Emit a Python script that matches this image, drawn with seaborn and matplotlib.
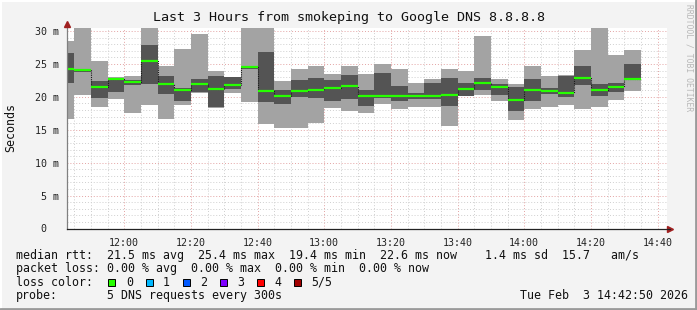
import matplotlib
matplotlib.use("Agg")
import matplotlib.pyplot as plt
from matplotlib.patches import Rectangle
from matplotlib.lines import Line2D
from matplotlib.ticker import FixedLocator
import seaborn as sns
import pandas as pd
import numpy as np

# ---------------- data ----------------
bar_end = ["11:45", "11:50", "11:55", "12:00", "12:05", "12:10", "12:15", "12:20",
           "12:25", "12:30", "12:35", "12:40", "12:45", "12:50", "12:55", "13:00",
           "13:05", "13:10", "13:15", "13:20", "13:25", "13:30", "13:35", "13:40",
           "13:45", "13:50", "13:55", "14:00", "14:05", "14:10", "14:15", "14:20",
           "14:25", "14:30", "14:35"]
ping_min = [16.6, 20.3, 18.5, 19.7, 17.5, 18.75, 16.65, 18.8, 20.6, 18.3, 20.6, 19.2,
            15.8, 15.25, 15.25, 16.0, 18.25, 17.9, 17.55, 18.9, 18.15, 18.4, 18.4, 15.5,
            20.1, 20.3, 19.3, 16.5, 18.15, 18.4, 18.7, 18.15, 18.4, 19.5, 20.9]
ping_q1 = [22.1, 23.8, 19.9, 20.7, 21.8, 22.0, 20.5, 19.3, 20.8, 18.4, 21.2, 24.3,
           19.25, 18.9, 20.0, 19.9, 19.4, 19.65, 18.65, 19.8, 19.4, 19.7, 19.65, 18.65,
           20.2, 21.05, 20.25, 17.9, 19.4, 20.4, 20.0, 21.75, 20.15, 20.75, 22.6]
ping_med = [24.2, 24.05, 21.5, 22.7, 22.2, 25.4, 21.9, 21.0, 21.9, 21.2, 21.85, 24.5,
            20.9, 20.15, 20.9, 21.05, 21.4, 21.65, 20.15, 20.15, 20.15, 20.15, 20.15, 20.3,
            21.2, 22.1, 21.5, 19.5, 21.0, 20.9, 20.6, 22.8, 21.0, 21.5, 22.65]
ping_q3 = [26.6, 24.3, 22.4, 22.8, 22.5, 27.9, 23.15, 21.3, 22.7, 23.1, 23.0, 24.7,
           26.75, 21.05, 22.55, 22.8, 22.5, 23.25, 21.0, 23.55, 21.65, 20.55, 22.15, 22.8,
           22.1, 22.8, 21.9, 21.5, 22.65, 21.4, 23.2, 24.65, 21.9, 22.15, 25.05]
ping_max = [28.5, 31.0, 25.5, 23.0, 23.1, 31.0, 24.65, 27.3, 29.5, 24.0, 23.05, 31.0,
            31.0, 22.4, 24.3, 24.65, 23.4, 24.65, 23.4, 25.05, 24.3, 22.05, 22.65, 24.3,
            24.0, 29.25, 22.65, 21.9, 24.65, 23.15, 23.3, 27.15, 31.0, 26.4, 27.15]

x_tick_labels = ["12:00", "12:20", "12:40", "13:00", "13:20", "13:40", "14:00", "14:20", "14:40"]
y_tick_values = [0, 5, 10, 15, 20, 25, 30]
y_tick_labels = ["0  ", "5 m", "10 m", "15 m", "20 m", "25 m", "30 m"]

title = "Last 3 Hours from smokeping to Google DNS 8.8.8.8"
window_start = "11:42:50"
window_end = "14:42:50"
step_minutes = 5

legend_rtt = "median rtt:  21.5 ms avg  25.4 ms max  19.4 ms min  22.6 ms now    1.4 ms sd  15.7   am/s"
legend_loss = "packet loss: 0.00 % avg  0.00 % max  0.00 % min  0.00 % now"
loss_labels = ["0", "1", "2", "3", "4", "5/5"]
loss_colors = ["#26ff00", "#00b8ff", "#0059ff", "#7e00ff", "#ff0000", "#a10000"]
probe_text = "5 DNS requests every 300s"
date_text = "Tue Feb  3 14:42:50 2026"
watermark = "RRDTOOL / TOBI OETIKER"


def to_min(s):
    parts = [int(p) for p in s.split(":")]
    while len(parts) < 3:
        parts.append(0)
    return parts[0] * 60 + parts[1] + parts[2] / 60.0


df = pd.DataFrame({
    "end": [to_min(t) for t in bar_end],
    "lo": ping_min, "q1": ping_q1, "med": ping_med, "q3": ping_q3, "hi": ping_max,
})
df["start"] = df["end"] - step_minutes

# ---------------- figure ----------------
sns.set_style("white")
MONO = ["DejaVu Sans Mono"]
plt.rcParams["font.family"] = MONO

W, H = 697, 310
fig = plt.figure(figsize=(W / 100, H / 100), dpi=100)
BG = "#f3f3f3"
fig.patch.set_facecolor(BG)


def fx(x):
    return x / W


def fy(y):
    return 1 - y / H


ax_left, ax_right, ax_top, ax_bot = 67, 667, 28, 228.5
ax = fig.add_axes([fx(ax_left), fy(ax_bot), (ax_right - ax_left) / W, (ax_bot - ax_top) / H])
ax.set_facecolor("white")

ax.set_xlim(to_min(window_start), to_min(window_end))
ax.set_ylim(0, 30.46)

LIGHT = "#a3a3a3"
DARK = "#545454"

# smoke: outer pings (light) and inner pings (dark)
ax.bar(df["start"], df["hi"] - df["lo"], bottom=df["lo"], width=step_minutes,
       align="edge", color=LIGHT, linewidth=0, zorder=2)
ax.bar(df["start"], df["q3"] - df["q1"], bottom=df["q1"], width=step_minutes,
       align="edge", color=DARK, linewidth=0, zorder=3)

# median connectors (dotted dark step) and green median segments
sns.lineplot(data=df, x="end", y="med", ax=ax, drawstyle="steps-pre",
             color="#1a1a1a", linewidth=0.8, linestyle=(0, (1, 1)), zorder=4)
ax.hlines(df["med"], df["start"], df["end"], colors=loss_colors[0], linewidth=1.6, zorder=5)

# grid
major_x = [to_min(t) for t in x_tick_labels]
minor_x = np.arange(to_min("11:45"), to_min(window_end), step_minutes)
ax.xaxis.set_major_locator(FixedLocator(major_x))
ax.xaxis.set_minor_locator(FixedLocator(minor_x))
ax.set_xticklabels(x_tick_labels)
ax.yaxis.set_major_locator(FixedLocator(y_tick_values))
ax.yaxis.set_minor_locator(FixedLocator(np.arange(0, 31, 1)))
ax.set_yticklabels(y_tick_labels)

ax.set_axisbelow(True)
ax.grid(which="minor", color="#cfcfcf", linestyle=(0, (1, 2)), linewidth=0.7, zorder=1)
ax.grid(which="major", color="#e3a3a3", linestyle=(0, (1, 2)), linewidth=0.7, zorder=1)

ax.tick_params(axis="both", which="both", labelsize=7.2, colors="#222222")
ax.tick_params(axis="x", which="major", length=3, pad=5, direction="inout", color="#555555")
ax.tick_params(axis="x", which="minor", length=2, direction="inout", color="#777777")
ax.tick_params(axis="y", which="major", length=4, pad=4, direction="inout", color="#777777")
ax.tick_params(axis="y", which="minor", length=2, direction="inout", color="#999999")
for lbl in ax.get_xticklabels() + ax.get_yticklabels():
    lbl.set_family(MONO)

for s in ["top", "right"]:
    ax.spines[s].set_visible(False)
ax.spines["left"].set_color("#808080")
ax.spines["bottom"].set_color("#222222")
ax.spines["left"].set_linewidth(0.9)
ax.spines["bottom"].set_linewidth(0.9)
ax.spines["left"].set_zorder(7)
ax.spines["bottom"].set_zorder(7)
ax.set_xlabel("")
ax.set_ylabel("")

# axis arrows
fig.add_artist(Line2D([fx(ax_left)], [fy(23.5)], marker="^", markersize=5,
                      color="#a02020", linestyle="none"))
fig.add_artist(Line2D([fx(ax_right + 3)], [fy(ax_bot)], marker=">", markersize=5,
                      color="#a02020", linestyle="none"))
fig.add_artist(Line2D([fx(ax_right), fx(ax_right + 3)], [fy(ax_bot), fy(ax_bot)],
                      color="#222222", linewidth=0.9))

# title and labels
fig.text(fx(349), fy(18), title, ha="center", va="center", fontsize=9.6, family=MONO, color="#111111")
fig.text(fx(11), fy(127), "Seconds", ha="center", va="center", rotation=90,
         fontsize=8.4, family=MONO, color="#111111")
fig.text(fx(689), fy(4), watermark, ha="center", va="top", rotation=270,
         fontsize=5.8, family=MONO, color="#b8b8b8")

# legend block
LFS = 8.4
fig.text(fx(16), fy(258.5), legend_rtt, ha="left", va="baseline", fontsize=LFS, family=MONO, color="#111111")
fig.text(fx(16), fy(272), legend_loss, ha="left", va="baseline", fontsize=LFS, family=MONO, color="#111111")
fig.text(fx(16), fy(285.5), "loss color:", ha="left", va="baseline", fontsize=LFS, family=MONO, color="#111111")
box_x = [108, 145.5, 182.5, 219.5, 256.5, 293.5]
lab_x = [126, 163, 200, 237, 274, 311]
for bx, lx, lab, col in zip(box_x, lab_x, loss_labels, loss_colors):
    fig.add_artist(Rectangle((fx(bx), fy(285.5)), 7 / W, 7 / H, facecolor=col,
                             edgecolor="#000000", linewidth=0.7))
    fig.text(fx(lx), fy(285.5), lab, ha="left", va="baseline", fontsize=LFS, family=MONO, color="#111111")
fig.text(fx(16), fy(299), "probe:", ha="left", va="baseline", fontsize=LFS, family=MONO, color="#111111")
fig.text(fx(107), fy(299), probe_text, ha="left", va="baseline", fontsize=LFS, family=MONO, color="#111111")
fig.text(fx(688), fy(299), date_text, ha="right", va="baseline", fontsize=LFS, family=MONO, color="#111111")

# 3D-like frame
fig.add_artist(Line2D([0, 1], [fy(0.5), fy(0.5)], color="#ffffff", linewidth=1.5))
fig.add_artist(Line2D([fx(0.5), fx(0.5)], [0, 1], color="#ffffff", linewidth=1.5))
fig.add_artist(Line2D([0, 1], [fy(309), fy(309)], color="#9a9a9a", linewidth=2))
fig.add_artist(Line2D([fx(696), fx(696)], [0, 1], color="#9a9a9a", linewidth=2))

fig.savefig("out.png", dpi=100, facecolor=fig.get_facecolor())
